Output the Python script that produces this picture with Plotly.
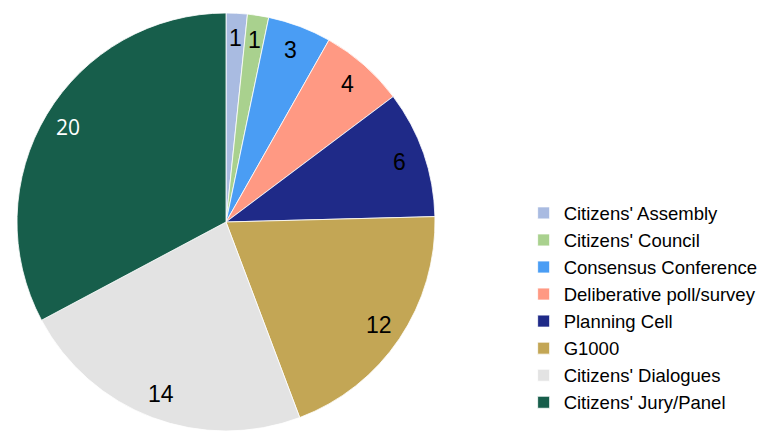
import math
import plotly.graph_objects as go

# Number of cases by deliberative method
methods = [
    "Citizens' Assembly",
    "Citizens' Council",
    "Consensus Conference",
    "Deliberative poll/survey",
    "Planning Cell",
    "G1000",
    "Citizens' Dialogues",
    "Citizens' Jury/Panel",
]
counts = [1, 1, 3, 4, 6, 12, 14, 20]
colors = ["#A9BBE1", "#A9D18E", "#4A9DF4", "#FF9983", "#1F2A88",
          "#C3A655", "#E3E3E3", "#175E4B"]
label_colors = ["black"] * 7 + ["white"]
label_fonts = ["Liberation Sans"] * 7 + ["Open Sans"]
label_sizes = [23] * 7 + [21]

W, H = 760, 431
dom_x = [16 / W, 436 / W]
dom_y = [0.0, 418 / H]

fig = go.Figure()
fig.add_trace(go.Pie(
    labels=methods,
    values=counts,
    sort=False,
    direction="clockwise",
    rotation=0,
    marker=dict(colors=colors, line=dict(color="white", width=0.8)),
    textinfo="none",
    hoverinfo="label+value",
    domain=dict(x=dom_x, y=dom_y),
))

# value labels near the rim, at the middle angle of each slice
cx = (dom_x[0] + dom_x[1]) / 2 * W
cy = (dom_y[0] + dom_y[1]) / 2 * H
radius = min((dom_x[1] - dom_x[0]) * W, (dom_y[1] - dom_y[0]) * H) / 2
total = sum(counts)
acc = 0
for c, col, fam, size in zip(counts, label_colors, label_fonts, label_sizes):
    ang = math.radians((acc + c / 2) / total * 360)
    acc += c
    r = 0.88 * radius
    fig.add_annotation(
        x=(cx + r * math.sin(ang)) / W,
        y=(cy + r * math.cos(ang)) / H,
        xref="paper", yref="paper",
        text=str(c),
        showarrow=False,
        xanchor="center", yanchor="middle",
        font=dict(size=size, color=col, family=fam),
    )

fig.update_layout(
    width=W,
    height=H,
    margin=dict(l=0, r=0, t=0, b=0, autoexpand=False),
    paper_bgcolor="white",
    plot_bgcolor="white",
    legend=dict(
        x=0.689,
        y=0.549,
        xanchor="left",
        yanchor="top",
        font=dict(family="Liberation Sans", size=18.5, color="black"),
        bgcolor="rgba(0,0,0,0)",
    ),
)

fig.write_html("out.html")
